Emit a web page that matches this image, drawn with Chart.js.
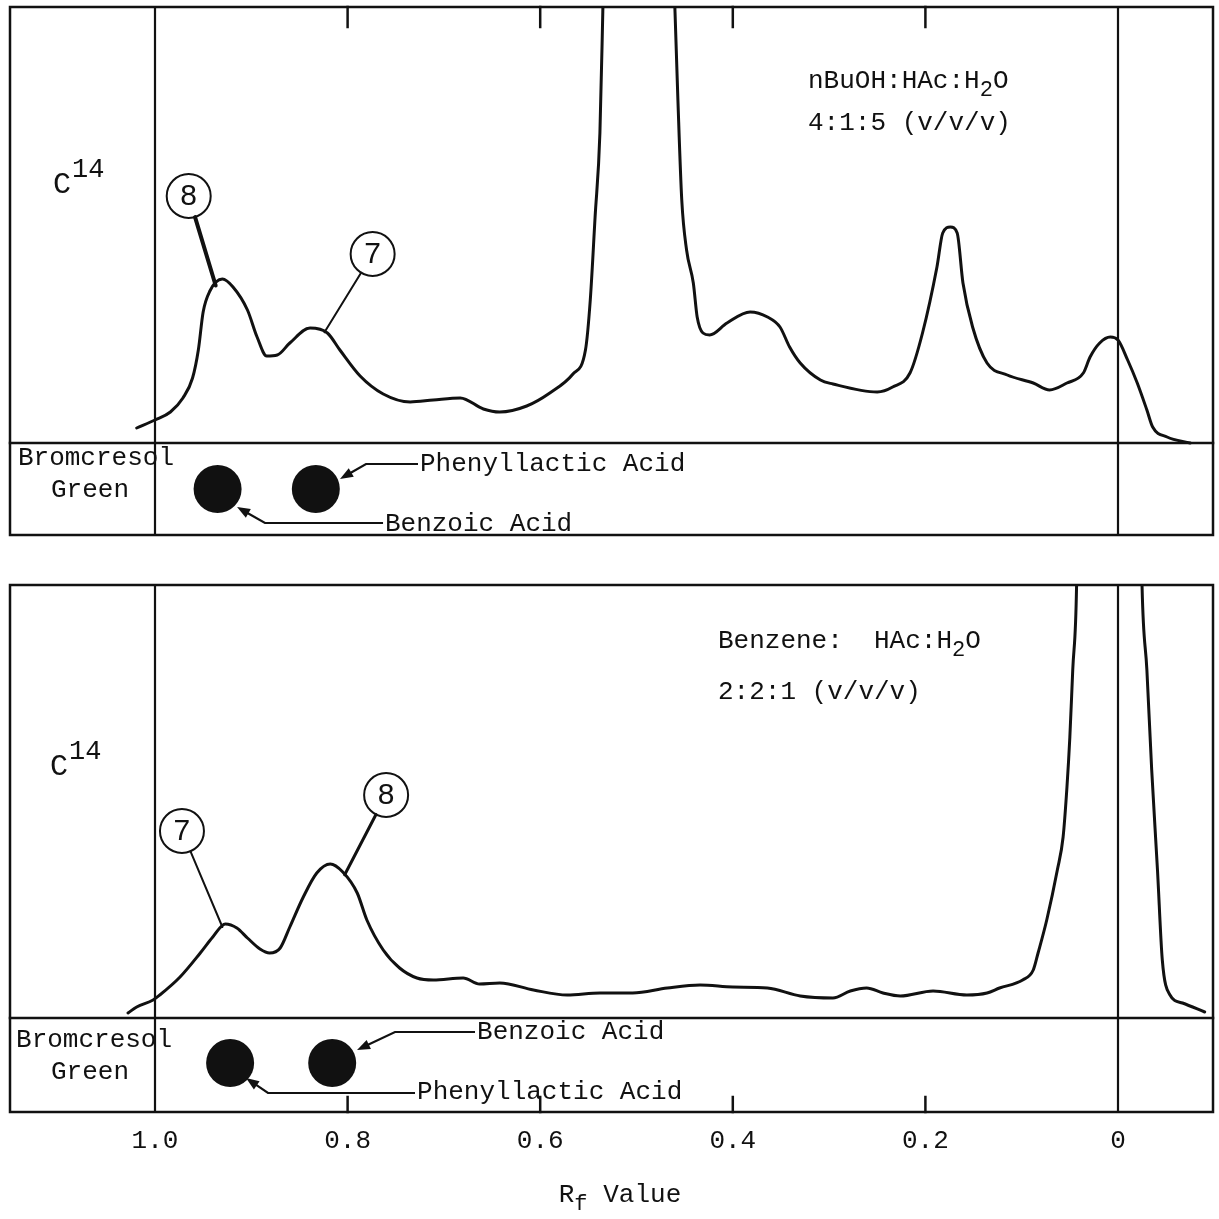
<!DOCTYPE html>
<html>
<head>
<meta charset="utf-8">
<script src="https://cdn.jsdelivr.net/npm/chart.js@4.4.1/dist/chart.umd.min.js"></script>
<style>
  html, body { margin: 0; padding: 0; background: #ffffff; }
  #wrap { position: relative; width: 1219px; height: 1219px; overflow: hidden; background: #ffffff; }
  #cTop { position: absolute; left: 0; top: 0; }
  #cBot { position: absolute; left: 0; top: 560px; }
</style>
</head>
<body>
<div id="wrap">
  <canvas id="cTop" width="1219" height="545"></canvas>
  <canvas id="cBot" width="1219" height="659"></canvas>
</div>
<script>
// ---------------- DATA ----------------
const tickValues = [1.0, 0.8, 0.6, 0.4, 0.2, 0];
const tickLabels = ['1.0', '0.8', '0.6', '0.4', '0.2', '0'];

// Upper strip: nBuOH:HAc:H2O 4:1:5 — Rf vs relative C14 counts
const rfButanol = [1.019, 1.000, 0.984, 0.971, 0.961, 0.955, 0.950, 0.943, 0.930, 0.919,
  0.904, 0.894, 0.884, 0.873, 0.860, 0.839, 0.821, 0.808, 0.787, 0.763,
  0.735, 0.711, 0.683, 0.659, 0.642, 0.614, 0.590, 0.566, 0.553, 0.548,
  0.543, 0.538, 0.535, 0.520, 0.480, 0.460, 0.457, 0.453, 0.448, 0.441,
  0.437, 0.431, 0.424, 0.406, 0.382, 0.364, 0.351, 0.341, 0.330, 0.309,
  0.296, 0.250, 0.234, 0.216, 0.203, 0.188, 0.182, 0.174, 0.167, 0.161,
  0.151, 0.136, 0.115, 0.088, 0.071, 0.053, 0.036, 0.029, 0.019, 0.008,
  0.000, -0.010, -0.020, -0.030, -0.036, -0.051, -0.075];
const c14Butanol = [15, 23, 31, 45, 65, 93, 131, 152, 164, 156,
  133, 106, 87, 88, 100, 115, 110, 93, 67, 49,
  41, 43, 45, 34, 31, 37, 50, 69, 93, 143,
  226, 310, 431, 1100, 1100, 431, 343, 243, 193, 160,
  126, 110, 108, 120, 131, 126, 116, 96, 80, 63,
  59, 51, 56, 70, 110, 176, 210, 216, 210, 160,
  116, 80, 68, 60, 53, 60, 70, 86, 100, 106,
  103, 83, 60, 33, 16, 6, 0];

// Lower strip: Benzene:HAc:H2O 2:2:1
const rfBenzene = [1.028, 1.019, 1.002, 0.995, 0.974, 0.953, 0.940, 0.927, 0.915, 0.904,
  0.891, 0.881, 0.870, 0.860, 0.846, 0.832, 0.818, 0.805, 0.790, 0.780,
  0.763, 0.746, 0.728, 0.711, 0.680, 0.663, 0.642, 0.607, 0.572, 0.538,
  0.504, 0.468, 0.434, 0.400, 0.364, 0.330, 0.296, 0.278, 0.261, 0.244,
  0.226, 0.192, 0.157, 0.136, 0.123, 0.099, 0.088, 0.083, 0.074, 0.063,
  0.057, 0.053, 0.050, 0.047, 0.043, 0.032, -0.010, -0.025, -0.030, -0.035,
  -0.041, -0.046, -0.054, -0.067, -0.090];
const c14Benzene = [5, 11, 18, 23, 41, 65, 81, 94, 90, 80,
  69, 65, 70, 91, 121, 145, 154, 146, 125, 98,
  68, 50, 40, 38, 40, 34, 35, 28, 23, 25,
  25, 30, 33, 31, 30, 22, 20, 27, 30, 25,
  22, 27, 23, 25, 30, 38, 48, 65, 98, 148,
  181, 231, 281, 348, 433, 1300, 1300, 431, 348, 248,
  148, 58, 23, 15, 6];

// Bromcresol green spots
const spotNamesButanol = ['Benzoic Acid', 'Phenyllactic Acid'];
const spotRfButanol = [0.935, 0.833];
const spotNamesBenzene = ['Phenyllactic Acid', 'Benzoic Acid'];
const spotRfBenzene = [0.922, 0.816];

// Numbered peaks
const peakNumbersButanol = ['8', '7'];
const peakRfButanol = [0.937, 0.824];
const peakNumbersBenzene = ['7', '8'];
const peakRfBenzene = [0.930, 0.803];

// ---------------- STYLE / LAYOUT ----------------
const INK = '#111111';
const MONO = '"Liberation Mono", "DejaVu Sans Mono", monospace';
const SANS = '"Liberation Sans", "DejaVu Sans", sans-serif';
const X_MAX = 1.15057;   // left edge of frame
const X_MIN = -0.09865;  // right edge of frame

function interp(rfs, vals, rf) {
  for (let i = 0; i < rfs.length - 1; i++) {
    const a = rfs[i], b = rfs[i + 1];
    if (rf <= a && rf >= b) {
      const t = (a - rf) / (a - b);
      return vals[i] + t * (vals[i + 1] - vals[i]);
    }
  }
  return 0;
}

function drawRich(ctx, x, y, parts, size) {
  let cx = x;
  ctx.textAlign = 'left';
  ctx.textBaseline = 'alphabetic';
  parts.forEach(p => {
    const s = p.sub ? size * 0.85 : (p.size || size);
    ctx.font = s + 'px ' + MONO;
    let dy = 0;
    if (p.sub) dy = size * 0.3;
    if (p.sup) dy = -size * 0.62;
    ctx.fillText(p.t, cx + (p.dx || 0), y + dy);
    cx += ctx.measureText(p.t).width + (p.dx || 0);
  });
  return cx - x;
}

function richWidth(ctx, parts, size) {
  let w = 0;
  parts.forEach(p => {
    ctx.font = (p.sub ? size * 0.85 : size) + 'px ' + MONO;
    w += ctx.measureText(p.t).width;
  });
  return w;
}

function panelPlugin(P) {
  return {
    id: 'panel_' + P.id,
    beforeDatasetsDraw(chart) {
      const ctx = chart.ctx, a = chart.chartArea;
      const xs = chart.scales.x, ys = chart.scales.y;
      ctx.save();
      ctx.strokeStyle = INK;
      ctx.lineCap = 'square';
      ctx.lineWidth = 2.5;
      ctx.strokeRect(a.left, a.top, a.right - a.left, a.bottom - a.top);
      const yb = ys.getPixelForValue(0);
      ctx.beginPath(); ctx.moveTo(a.left, yb); ctx.lineTo(a.right, yb); ctx.stroke();
      ctx.lineWidth = 2.2;
      [1.0, 0].forEach(v => {
        const x = xs.getPixelForValue(v);
        ctx.beginPath(); ctx.moveTo(x, a.top); ctx.lineTo(x, a.bottom); ctx.stroke();
      });
      ctx.lineWidth = 2.5;
      tickValues.filter(v => v > 0.01 && v < 0.99).forEach(v => {
        const x = xs.getPixelForValue(v);
        ctx.beginPath();
        if (P.tickSide === 'top') { ctx.moveTo(x, a.top); ctx.lineTo(x, a.top + P.tickLen); }
        else { ctx.moveTo(x, a.bottom); ctx.lineTo(x, a.bottom - P.tickLen); }
        ctx.stroke();
      });
      ctx.restore();
    },
    afterDatasetsDraw(chart) {
      const ctx = chart.ctx, a = chart.chartArea;
      const xs = chart.scales.x, ys = chart.scales.y;
      const px = (rf) => xs.getPixelForValue(rf);
      const py = (v) => ys.getPixelForValue(v);
      ctx.save();
      ctx.fillStyle = INK;
      ctx.strokeStyle = INK;

      // solvent text
      P.solvent.forEach(line => drawRich(ctx, px(line.rf), py(line.y), line.parts, 26));
      // C14 label
      drawRich(ctx, px(P.c14Label.rf), py(P.c14Label.y), [{t: 'C', size: 30}, {t: '14', sup: true, size: 27, dx: 1}], 26);

      // Bromcresol Green
      ctx.font = '26px ' + MONO;
      ctx.textAlign = 'center';
      ctx.textBaseline = 'middle';
      P.stain.forEach(s => ctx.fillText(s.t, px(s.rf), py(s.y)));

      // numbered peak circles with leaders
      P.peakNumbers.forEach((num, i) => {
        const c = P.circles[i];
        const cx = px(c.rf), cy = py(c.y);
        const trf = P.peakRf[i];
        const tx = px(trf), ty = py(interp(P.rf, P.c14, trf));
        const ang = Math.atan2(ty - cy, tx - cx);
        ctx.lineWidth = c.w;
        ctx.lineCap = 'round';
        ctx.beginPath();
        ctx.moveTo(cx + P.r * Math.cos(ang), cy + P.r * Math.sin(ang));
        ctx.lineTo(tx, ty);
        ctx.stroke();
        ctx.lineWidth = 2;
        ctx.beginPath(); ctx.arc(cx, cy, P.r, 0, Math.PI * 2); ctx.stroke();
        ctx.font = '30px ' + SANS;
        ctx.textAlign = 'center';
        ctx.textBaseline = 'middle';
        ctx.fillText(num, cx, cy + 1);
      });

      // spot arrows and names
      P.spotNames.forEach((name, i) => {
        const ar = P.arrows[i];
        const pts = ar.path.map(p => [px(p[0]), py(p[1])]);
        ctx.lineWidth = 2.2;
        ctx.lineCap = 'butt';
        const n = pts.length;
        const [x1, y1] = pts[n - 2], [x2, y2] = pts[n - 1];
        const ang = Math.atan2(y2 - y1, x2 - x1);
        const hl = 13, hw = 5;
        ctx.beginPath();
        ctx.moveTo(pts[0][0], pts[0][1]);
        for (let k = 1; k < n - 1; k++) ctx.lineTo(pts[k][0], pts[k][1]);
        ctx.lineTo(x2 - (hl - 2) * Math.cos(ang), y2 - (hl - 2) * Math.sin(ang));
        ctx.stroke();
        ctx.beginPath();
        ctx.moveTo(x2, y2);
        ctx.lineTo(x2 - hl * Math.cos(ang) + hw * Math.sin(ang), y2 - hl * Math.sin(ang) - hw * Math.cos(ang));
        ctx.lineTo(x2 - hl * Math.cos(ang) - hw * Math.sin(ang), y2 - hl * Math.sin(ang) + hw * Math.cos(ang));
        ctx.closePath();
        ctx.fill();
        ctx.font = '26px ' + MONO;
        ctx.textAlign = 'left';
        ctx.textBaseline = 'middle';
        ctx.fillText(name, px(ar.rf), py(ar.y));
      });

      // axis title
      if (P.axisTitle) {
        const parts = [{t: 'R'}, {t: 'f', sub: true}, {t: ' Value'}];
        const w = richWidth(ctx, parts, 26);
        const cx = P.axisTitle.cx;
        drawRich(ctx, cx - w / 2, a.bottom + P.axisTitle.dy, parts, 26);
      }
      ctx.restore();
    }
  };
}

function makePanel(canvasId, P) {
  const curve = P.rf.map((r, i) => ({x: r, y: P.c14[i]}));
  const spots = P.spotRf.map(r => ({x: r, y: P.spotY}));
  const xAxis = {
    type: 'linear', reverse: true, min: X_MIN, max: X_MAX,
    display: P.showAxis,
    grid: { display: false, drawTicks: false },
    border: { display: false },
    afterBuildTicks: (s) => { s.ticks = tickValues.map(v => ({ value: v })); },
    ticks: {
      autoSkip: false, maxRotation: 0, minRotation: 0, padding: 14, color: INK,
      font: { family: MONO, size: 26 },
      callback: (v, i) => tickLabels[i]
    }
  };
  if (P.showAxis) xAxis.afterFit = (s) => { s.height = 45; };
  return new Chart(document.getElementById(canvasId), {
    type: 'line',
    data: {
      datasets: [
        { data: curve, borderColor: INK, borderWidth: 3, pointRadius: 0, fill: false,
          cubicInterpolationMode: 'monotone', borderCapStyle: 'round', borderJoinStyle: 'round' },
        { data: spots, showLine: false, pointRadius: 24, pointStyle: 'circle',
          pointBackgroundColor: INK, pointBorderColor: INK, pointBorderWidth: 0 }
      ]
    },
    options: {
      responsive: false,
      animation: false,
      devicePixelRatio: 1,
      events: [],
      layout: { padding: P.padding, autoPadding: false },
      plugins: { legend: { display: false }, tooltip: { enabled: false } },
      scales: {
        x: xAxis,
        y: { type: 'linear', min: P.yMin, max: P.yMax, display: false }
      }
    },
    plugins: [panelPlugin(P)]
  });
}

makePanel('cTop', {
  id: 'top', rf: rfButanol, c14: c14Butanol,
  padding: { left: 10, right: 6, top: 7, bottom: 10 },
  yMin: -92, yMax: 436, showAxis: false,
  tickSide: 'top', tickLen: 20,
  spotRf: spotRfButanol, spotY: -46, spotNames: spotNamesButanol,
  arrows: [
    { rf: 0.7612, y: -81, path: [[0.7632, -80], [0.8858, -80], [0.9148, -64]] },
    { rf: 0.7248, y: -21, path: [[0.7269, -21], [0.7809, -21], [0.8079, -36]] }
  ],
  peakNumbers: peakNumbersButanol, peakRf: peakRfButanol, r: 22,
  circles: [ { rf: 0.965, y: 247, w: 4 }, { rf: 0.774, y: 189, w: 2 } ],
  solvent: [
    { rf: 0.3219, y: 355, parts: [{t: 'nBuOH:HAc:H'}, {t: '2', sub: true}, {t: 'O'}] },
    { rf: 0.3219, y: 313, parts: [{t: '4:1:5 (v/v/v)'}] }
  ],
  c14Label: { rf: 1.1059, y: 250 },
  stain: [ { t: 'Bromcresol', rf: 1.0613, y: -15 }, { t: 'Green', rf: 1.0675, y: -47 } ]
});

makePanel('cBot', {
  id: 'bot', rf: rfBenzene, c14: c14Benzene,
  padding: { left: 10, right: 6, top: 25, bottom: 62 },
  yMin: -94, yMax: 433, showAxis: true,
  tickSide: 'bottom', tickLen: 15,
  spotRf: spotRfBenzene, spotY: -45, spotNames: spotNamesBenzene,
  arrows: [
    { rf: 0.7279, y: -74, path: [[0.7300, -75], [0.8827, -75], [0.9055, -60]] },
    { rf: 0.6656, y: -14, path: [[0.6677, -14], [0.7508, -14], [0.7902, -32]] }
  ],
  peakNumbers: peakNumbersBenzene, peakRf: peakRfBenzene, r: 22,
  circles: [ { rf: 0.972, y: 187, w: 2 }, { rf: 0.760, y: 223, w: 3 } ],
  solvent: [
    { rf: 0.4154, y: 370, parts: [{t: 'Benzene:  HAc:H'}, {t: '2', sub: true}, {t: 'O'}] },
    { rf: 0.4154, y: 319, parts: [{t: '2:2:1 (v/v/v)'}] }
  ],
  c14Label: { rf: 1.109, y: 243 },
  stain: [ { t: 'Bromcresol', rf: 1.0633, y: -22 }, { t: 'Green', rf: 1.0675, y: -54 } ],
  axisTitle: { cx: 620, dy: 90 }
});
</script>
</body>
</html>
